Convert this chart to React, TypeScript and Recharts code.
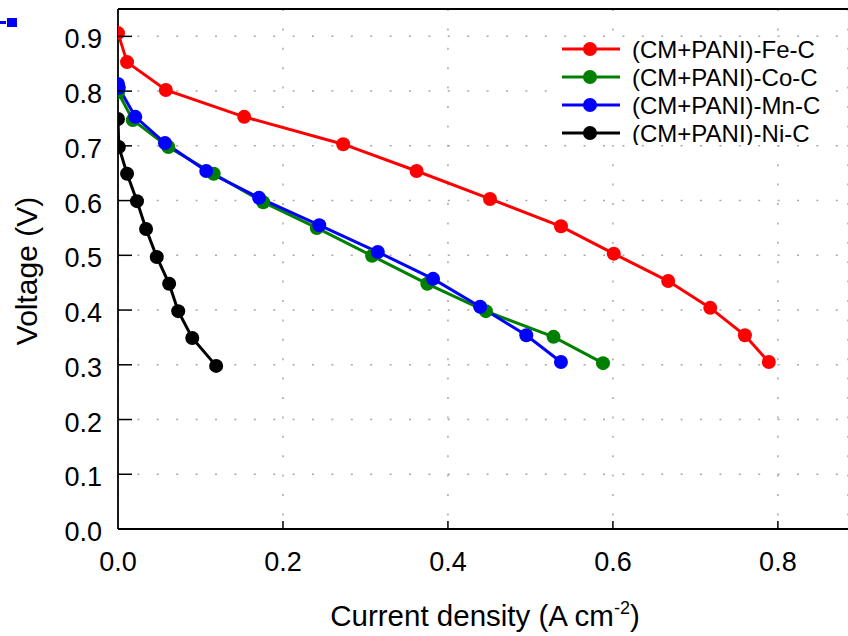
import React from "react";
import {
  LineChart,
  Line,
  XAxis,
  YAxis,
  CartesianGrid,
  Legend,
  Label,
  ReferenceLine,
} from "recharts";

// current density (A cm-2) and voltage (V) for each catalyst
const feX = [0.0, 0.011, 0.058, 0.153, 0.273, 0.362, 0.451, 0.537, 0.601, 0.667, 0.718, 0.76, 0.789];
const feY = [0.906, 0.853, 0.802, 0.753, 0.703, 0.654, 0.603, 0.553, 0.503, 0.453, 0.404, 0.354, 0.305];

const coX = [0.0, 0.018, 0.061, 0.116, 0.176, 0.241, 0.308, 0.375, 0.446, 0.528, 0.588];
const coY = [0.798, 0.747, 0.698, 0.649, 0.597, 0.55, 0.499, 0.448, 0.398, 0.351, 0.303];

const mnX = [0.0, 0.001, 0.021, 0.057, 0.107, 0.171, 0.244, 0.315, 0.382, 0.439, 0.495, 0.537];
const mnY = [0.813, 0.806, 0.753, 0.705, 0.654, 0.605, 0.555, 0.506, 0.457, 0.406, 0.354, 0.305];

const niX = [0.0, 0.001, 0.011, 0.023, 0.034, 0.047, 0.062, 0.073, 0.09, 0.119];
const niY = [0.749, 0.698, 0.649, 0.599, 0.548, 0.497, 0.448, 0.398, 0.349, 0.298];

const xTicks = [0, 0.2, 0.4, 0.6, 0.8];
const yTicks = [0, 0.1, 0.2, 0.3, 0.4, 0.5, 0.6, 0.7, 0.8, 0.9];

const toPoints = (xs: number[], ys: number[]) => xs.map((x, i) => ({ x, y: ys[i] }));

const series = [
  { name: "(CM+PANI)-Fe-C", color: "#ff0000", data: toPoints(feX, feY) },
  { name: "(CM+PANI)-Co-C", color: "#008000", data: toPoints(coX, coY) },
  { name: "(CM+PANI)-Mn-C", color: "#0000ff", data: toPoints(mnX, mnY) },
  { name: "(CM+PANI)-Ni-C", color: "#000000", data: toPoints(niX, niY) },
];

const FONT = "Arial, 'Liberation Sans', sans-serif";

const XTick = (props: any) => {
  const { x, y, payload } = props;
  return (
    <g>
      {payload.value !== 0 && <line x1={x} x2={x} y1={y} y2={y - 8} stroke="#000" strokeWidth={1.5} />}
      <text x={x} y={y + 42} textAnchor="middle" fontSize={27} fontFamily={FONT} fill="#000">
        {payload.value.toFixed(1)}
      </text>
    </g>
  );
};

const YTick = (props: any) => {
  const { x, y, payload } = props;
  return (
    <g>
      {payload.value !== 0 && <line x1={x} x2={x + 14} y1={y} y2={y} stroke="#000" strokeWidth={1.5} />}
      <text x={x - 16} y={y + 12} textAnchor="end" fontSize={27} fontFamily={FONT} fill="#000">
        {payload.value.toFixed(1)}
      </text>
    </g>
  );
};

const LegendBox = () => (
  <svg width={268} height={108} style={{ display: "block", background: "#fff" }}>
    {series.map((s, i) => {
      const cy = 12 + i * 28;
      return (
        <g key={s.name}>
          <line x1={5} x2={63} y1={cy} y2={cy} stroke={s.color} strokeWidth={3} />
          <circle cx={33} cy={cy} r={7} fill={s.color} />
          <text x={75} y={cy + 8.5} fontSize={24} fontFamily={FONT} fill="#000">
            {s.name}
          </text>
        </g>
      );
    })}
  </svg>
);

export default function App() {
  return (
    <div style={{ position: "absolute", left: 0, top: 0, width: 848, height: 636, background: "#fff" }}>
      <svg width={20} height={30} style={{ position: "absolute", left: 0, top: 0 }}>
        <line x1={0} x2={6} y1={22.5} y2={22.5} stroke="#0000ff" strokeWidth={3} />
        <rect x={7} y={18} width={10} height={9} fill="#0000ff" />
      </svg>
      <LineChart width={848} height={636} margin={{ top: 9, right: 0, bottom: 0, left: 0 }}>
        <CartesianGrid stroke="#a8a8a8" strokeWidth={1.5} strokeDasharray="2 17.4" />
        <XAxis
          type="number"
          dataKey="x"
          domain={[0, 0.885]}
          ticks={xTicks}
          allowDataOverflow
          height={107}
          tickSize={0}
          tickMargin={0}
          tickLine={false}
          axisLine={{ stroke: "#000", strokeWidth: 1.8 }}
          tick={<XTick />}
        >
          <Label
            content={(p: any) => {
              const vb = p.viewBox;
              return (
                <text x={vb.x + vb.width / 2 + 2} y={vb.y + 97} textAnchor="middle" fontSize={29.5} fontFamily={FONT} fill="#000">
                  Current density (A cm
                  <tspan fontSize={18} dy={-12}>-2</tspan>
                  <tspan dy={12}>)</tspan>
                </text>
              );
            }}
          />
        </XAxis>
        <YAxis
          type="number"
          dataKey="y"
          domain={[0, 0.95]}
          ticks={yTicks}
          width={118}
          tickSize={0}
          tickMargin={0}
          tickLine={false}
          axisLine={{ stroke: "#000", strokeWidth: 1.8 }}
          tick={<YTick />}
        >
          <Label
            content={(p: any) => {
              const vb = p.viewBox;
              const cy = vb.y + vb.height / 2 + 2;
              return (
                <text x={37} y={cy} transform={`rotate(-90, 37, ${cy})`} textAnchor="middle" fontSize={30} fontFamily={FONT} fill="#000">
                  Voltage (V)
                </text>
              );
            }}
          />
        </YAxis>
        <ReferenceLine y={0.95} stroke="#000" strokeWidth={2} ifOverflow="visible" />
        {series.map((s) => (
          <Line
            key={s.name}
            data={s.data}
            dataKey="y"
            name={s.name}
            type="linear"
            stroke={s.color}
            strokeWidth={3}
            dot={{ r: 7, fill: s.color, stroke: s.color, strokeWidth: 0 }}
            activeDot={false}
            isAnimationActive={false}
          />
        ))}
        <Legend
          layout="vertical"
          align="center"
          verticalAlign="middle"
          content={<LegendBox />}
          wrapperStyle={{ position: "absolute", left: 557, top: 37, width: 268, height: 108 }}
        />
      </LineChart>
    </div>
  );
}
